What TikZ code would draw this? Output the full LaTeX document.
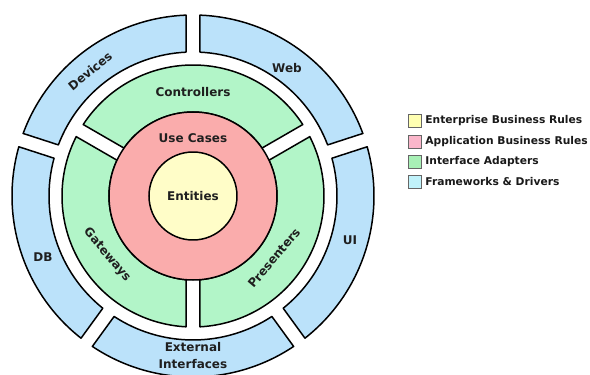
\documentclass[tikz,border=0pt]{standalone}
\usepackage{fontspec}
\setmainfont{DejaVu Sans}
\usepackage{tikz}
\definecolor{entcol}{RGB}{255,253,200}
\definecolor{usecol}{RGB}{250,172,172}
\definecolor{adpcol}{RGB}{178,245,200}
\definecolor{fwcol}{RGB}{187,226,250}
\definecolor{keyyellow}{RGB}{255,255,178}
\definecolor{keypink}{RGB}{250,182,202}
\definecolor{keygreen}{RGB}{168,240,182}
\definecolor{keycyan}{RGB}{192,242,250}
\tikzstyle{ring}=[draw, line width=1.5pt, line join=round]
\tikzstyle{ring label}=[font=\bfseries\fontsize{12}{17}\selectfont, text=black!88, align=center]
\tikzstyle{legend box}=[draw=black!60, line width=0.8pt, minimum size=13pt, inner sep=0pt, label distance=0.5pt]
\tikzstyle{legend text}=[font=\bfseries\fontsize{10.7}{12}\selectfont, text=black!90]
\def\gapw{7}
% one piece of a ring, between two gaps
\newcommand{\ringpart}[5]{%
  \pgfmathsetmacro{\fromin}{#2+asin(\gapw/#4)}
  \pgfmathsetmacro{\toin}{#3-asin(\gapw/#4)}
  \pgfmathsetmacro{\fromout}{#2+asin(\gapw/#5)}
  \pgfmathsetmacro{\toout}{#3-asin(\gapw/#5)}
  \draw[ring, #1] (\fromout:#5pt) arc[start angle=\fromout, end angle=\toout, radius=#5pt]
    -- (\toin:#4pt) arc[start angle=\toin, end angle=\fromin, radius=#4pt] -- cycle;}
\begin{document}
\begin{tikzpicture}[x=1pt, y=1pt]
\useasboundingbox (-193,-179) rectangle (397,196);

% frameworks & drivers
\ringpart{fill=fwcol}{-54}{18}{144}{181}
\ringpart{fill=fwcol}{18}{90}{144}{181}
\ringpart{fill=fwcol}{90}{162}{144}{181}
\ringpart{fill=fwcol}{162}{234}{144}{181}
\ringpart{fill=fwcol}{234}{306}{144}{181}

% interface adapters
\ringpart{fill=adpcol}{30}{150}{84}{131}
\ringpart{fill=adpcol}{150}{270}{84}{131}
\ringpart{fill=adpcol}{-90}{30}{84}{131}

\draw[ring, fill=usecol] (0,0) circle[radius=84pt];
\draw[ring, fill=entcol] (0,0) circle[radius=44pt];

\node[ring label] (entities) at (0,0) {Entities};
\node[ring label] (usecases) at (0,58) {Use Cases};
\node[ring label] (controllers) at (0,104) {Controllers};
\node[ring label, rotate=-50] (gateways) at (-86,-59) {Gateways};
\node[ring label, rotate=50] (presenters) at (81,-62) {Presenters};
\node[ring label, rotate=39.5] (devices) at (-103,125) {Devices};
\node[ring label] (web) at (94,128) {Web};
\node[ring label] (ui) at (157,-44) {UI};
\node[ring label] (db) at (-150,-61) {DB};
\node[ring label] (external) at (0,-160) {External\\Interfaces};

% legend
\node[legend box, fill=keyyellow, label={[legend text]right:Enterprise Business Rules}] (k0) at (222,75) {};
\node[legend box, fill=keypink,   label={[legend text]right:Application Business Rules}] (k1) at (222,54) {};
\node[legend box, fill=keygreen,  label={[legend text]right:Interface Adapters}] (k2) at (222,34) {};
\node[legend box, fill=keycyan,   label={[legend text]right:Frameworks \& Drivers}] (k3) at (222,14) {};
\end{tikzpicture}
\end{document}
